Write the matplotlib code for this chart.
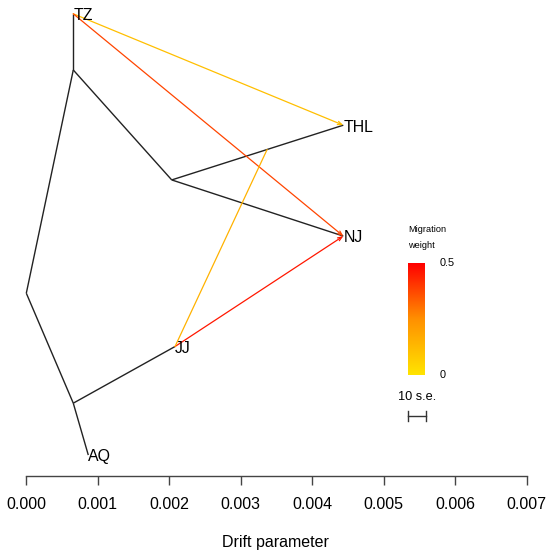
import matplotlib
matplotlib.use("Agg")
import matplotlib.pyplot as plt
import numpy as np
from matplotlib.colors import LinearSegmentedColormap

plt.rcParams['font.family'] = ['Liberation Sans', 'DejaVu Sans']

# tree nodes: drift (x) and vertical position (y, 0..1)
node_names = ["root", "A", "B", "C", "TZ", "THL", "NJ", "JJ", "AQ"]
node_x = [0.0, 0.000657, 0.002034, 0.000657, 0.000657, 0.004434, 0.004434, 0.00208, 0.000867]
node_y = [0.384, 0.853, 0.622, 0.153, 0.971, 0.737, 0.504, 0.272, 0.044]
edges = [("root", "A"), ("A", "TZ"), ("A", "B"), ("B", "THL"), ("B", "NJ"),
         ("root", "C"), ("C", "JJ"), ("C", "AQ")]
tips = ["TZ", "THL", "NJ", "JJ", "AQ"]

# migration edges: source, target (node or branch + fraction along it), weight
mig_src = ["TZ", "TZ", "JJ", "JJ"]
mig_dst = ["THL", "NJ", "NJ", ("B", "THL", 0.556)]
mig_w = [0.11, 0.38, 0.46, 0.15]
mig_head = [True, True, True, False]

se = 0.000026  # standard error, bar is 10 s.e.
ticks = [0.000, 0.001, 0.002, 0.003, 0.004, 0.005, 0.006, 0.007]

pos = {n: (x, y) for n, x, y in zip(node_names, node_x, node_y)}
cmap = LinearSegmentedColormap.from_list("heat", ["#FFE400", "#FF9000", "#FF0000"])

fig = plt.figure(figsize=(5.5, 5.58), dpi=100)
ax = fig.add_axes([0, 82 / 558, 1, 476 / 558])
ax.set_xlim(-0.000368, 0.007325)
ax.set_ylim(0, 1)

for a, b in edges:
    ax.plot([pos[a][0], pos[b][0]], [pos[a][1], pos[b][1]], color="#222222", lw=1.0,
            solid_capstyle="butt")

for s, d, w, h in zip(mig_src, mig_dst, mig_w, mig_head):
    if isinstance(d, tuple):
        p0, p1, f = pos[d[0]], pos[d[1]], d[2]
        end = (p0[0] + f * (p1[0] - p0[0]), p0[1] + f * (p1[1] - p0[1]))
    else:
        end = pos[d]
    c = cmap(w / 0.5)
    style = "->,head_length=0.3,head_width=0.12" if h else "-"
    ax.annotate("", xy=end, xytext=pos[s],
                arrowprops=dict(arrowstyle=style, color=c, lw=0.9, shrinkA=0, shrinkB=0))

for t in tips:
    ax.text(pos[t][0], pos[t][1] - 0.004, t, fontsize=11.4, ha="left", va="center")

# legend
ax.text(0.005343, 1 - 230 / 476, "Migration", fontsize=6.6, ha="left", va="center")
ax.text(0.005343, 1 - 246 / 476, "weight", fontsize=6.6, ha="left", va="center")
cax = fig.add_axes([407.7 / 550, (558 - 375) / 558, 16.6 / 550, 112 / 558])
grad = np.linspace(0, 0.5, 200).reshape(-1, 1)
cax.imshow(grad, cmap=cmap, aspect="auto", origin="lower", extent=[0, 1, 0, 0.5])
cax.axis("off")
ax.text(0.005776, 1 - 263 / 476, "0.5", fontsize=7.8, ha="left", va="center")
ax.text(0.005776, 1 - 375 / 476, "0", fontsize=7.8, ha="left", va="center")

bx = 0.005334
by = 1 - 416 / 476
ax.plot([bx, bx + 10 * se], [by, by], color="#333333", lw=1.0)
for xx in [bx, bx + 10 * se]:
    ax.plot([xx, xx], [by - 0.011, by + 0.011], color="#333333", lw=1.0)
ax.text(bx + 5 * se, 1 - 397.5 / 476, "10 s.e.", fontsize=9.2, ha="center", va="center")

for sp in ["top", "right", "left"]:
    ax.spines[sp].set_visible(False)
ax.spines["bottom"].set_bounds(0, 0.007)
ax.spines["bottom"].set_color("#444444")
ax.spines["bottom"].set_linewidth(1.0)
ax.set_yticks([])
ax.set_xticks(ticks)
ax.set_xticklabels([f"{t:.3f}" for t in ticks])
ax.tick_params(axis="x", direction="out", length=6.5, width=1.0, color="#444444",
               pad=8.5, labelsize=11.5)
ax.set_xlabel("Drift parameter", fontsize=11.5, labelpad=16.5)

fig.savefig("out.png", dpi=100)
